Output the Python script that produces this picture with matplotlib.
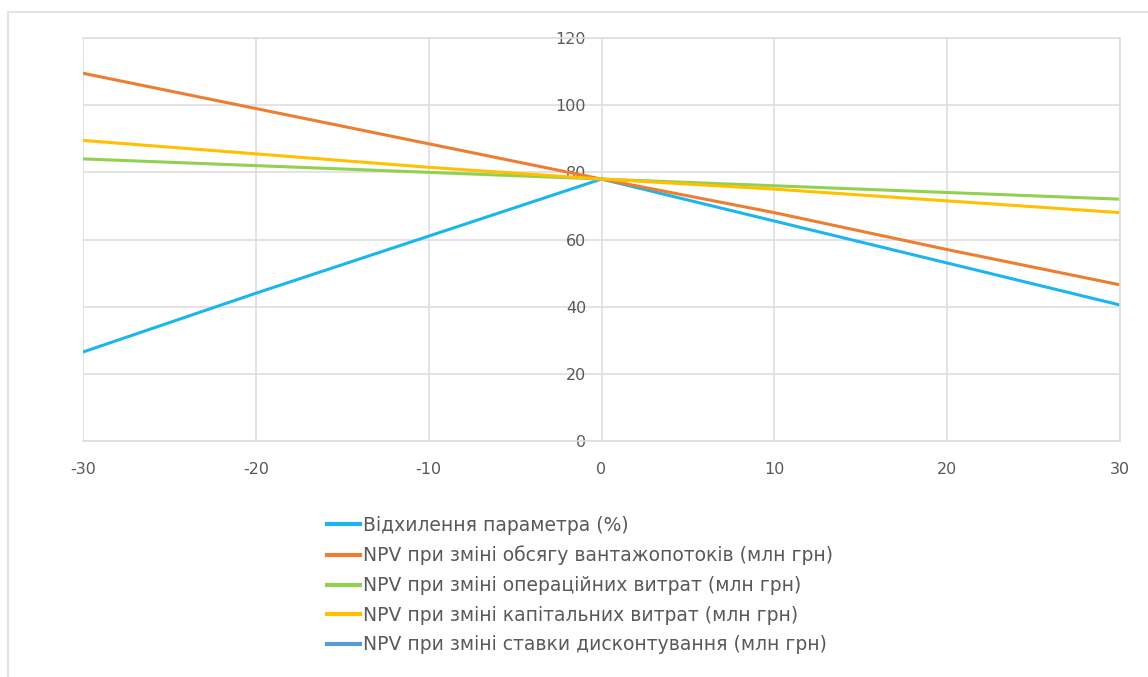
import matplotlib.pyplot as plt
from matplotlib.lines import Line2D
from matplotlib.patches import Rectangle

# Sensitivity of NPV to parameter deviations
deviation = [-30, -20, -10, 0, 10, 20, 30]
param_deviation = [26.5, 44, 61, 78, 65.5, 53, 40.5]
npv_volume = [109.5, 99, 88.5, 78, 68, 57, 46.5]
npv_opex = [84, 82, 80, 78, 76, 74, 72]
npv_capex = [89.5, 85.5, 81.5, 78, 75, 71.5, 68]
npv_discount = []  # no values shown for this series

labels = [
    "Відхилення параметра (%)",
    "NPV при зміні обсягу вантажопотоків (млн грн)",
    "NPV при зміні операційних витрат (млн грн)",
    "NPV при зміні капітальних витрат (млн грн)",
    "NPV при зміні ставки дисконтування (млн грн)",
]
colors = ["#1CB5EE", "#ED7D31", "#92D050", "#FFC000", "#5B9BD5"]
y_ticks = [0, 20, 40, 60, 80, 100, 120]
x_ticks = [-30, -20, -10, 0, 10, 20, 30]

plt.rcParams['font.family'] = ['DejaVu Sans']
plt.rcParams['axes.unicode_minus'] = False

fig = plt.figure(figsize=(11.48, 6.77), dpi=100)
fig.patch.set_facecolor("white")

# chart border (top and left visible)
fig.patches.append(Rectangle((8 / 1148, -0.1), 1.2, (677 - 12) / 677 + 0.1,
                             transform=fig.transFigure, fill=False,
                             edgecolor="#E3E3E3", linewidth=1.5))

ax = fig.add_axes([83 / 1148, (677 - 441) / 677, (1120 - 83) / 1148, (441 - 38) / 677])
ax.set_xlim(-30, 30)
ax.set_ylim(0, 120)
ax.set_xticks(x_ticks)
ax.set_yticks(y_ticks)
ax.grid(True, color="#DEDEDE", linewidth=1.2)
ax.set_axisbelow(True)
for s in ax.spines.values():
    s.set_color("#DEDEDE")
    s.set_linewidth(1.2)
ax.spines['left'].set_position(('data', 0))
ax.spines['left'].set_visible(False)
ax.tick_params(axis='both', length=0, colors="#595959", labelsize=11.5)
ax.tick_params(axis='x', pad=15)
ax.tick_params(axis='y', pad=11)

series = [param_deviation, npv_volume, npv_opex, npv_capex]
for vals, c in zip(series, colors[:4]):
    ax.plot(deviation, vals, color=c, linewidth=2.2, solid_capstyle='butt')
ax.plot(deviation[:len(npv_discount)], npv_discount, color=colors[4], linewidth=2.2)

handles = [Line2D([], [], color=c, linewidth=3) for c in colors]
fig.legend(handles, labels, loc="upper left", bbox_to_anchor=(327 / 1148, 1 - 516 / 677),
           frameon=False, fontsize=13.5, labelcolor="#595959", handlelength=1.75,
           handletextpad=0.15, labelspacing=0.57, borderpad=0, borderaxespad=0)

fig.savefig("out.png", dpi=100, facecolor="white")
